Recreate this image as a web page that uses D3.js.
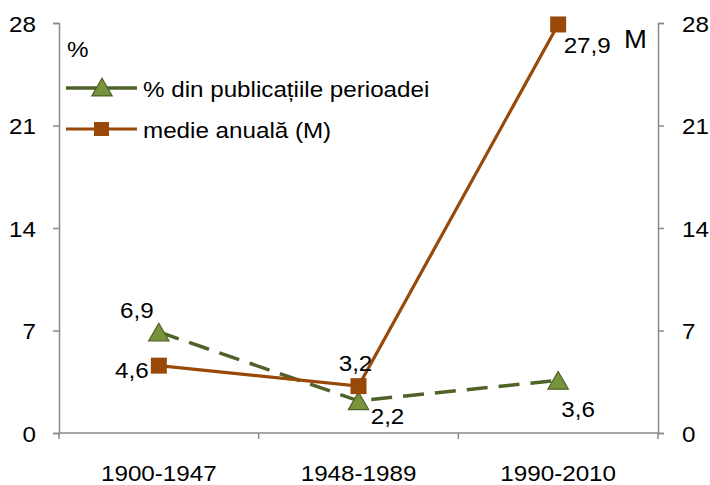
<!DOCTYPE html>
<html><head><meta charset="utf-8">
<script src="https://cdn.jsdelivr.net/npm/d3@7"></script>
<style>body{margin:0;background:#fff}svg text{font-family:"Liberation Sans",Arial,sans-serif;fill:#000}</style>
</head><body>
<svg id="c" width="710" height="485"></svg>
<script>
const categories = ["1900-1947", "1948-1989", "1990-2010"];
const pctValues = [6.9, 2.2, 3.6];
const annualValues = [4.6, 3.2, 27.9];
const yTicks = [0, 7, 14, 21, 28];
const seriesNames = ["% din publicațiile perioadei", "medie anuală (M)"];
const pctLabels = ["6,9", "2,2", "3,6"];
const annualLabels = ["4,6", "3,2", "27,9"];

const svg = d3.select("#c");
const L = 59, R = 658, T = 23, B = 433;
const x = d3.scaleBand().domain(categories).range([L, R]);
const y = d3.scaleLinear().domain([0, 28]).range([B, T]);
const y2 = d3.scaleLinear().domain([0, 28]).range([B, T]);
const axisColor = "#898989";
const fs = 22, K = 1.1;

function stretch(sel){
  sel.each(function(){
    const t = d3.select(this);
    const tx = +t.attr("x") || 0, ty = +t.attr("y") || 0;
    t.attr("x", 0).attr("y", 0).attr("transform", `translate(${tx},${ty}) scale(${K},1)`);
  });
}
function styleAxis(g){
  g.selectAll("path,line").attr("stroke", axisColor).attr("stroke-width",1.5);
  g.selectAll("text").style("font-size", fs+"px").attr("fill","#000");
  stretch(g.selectAll("text"));
}

const la = svg.append("g").attr("transform",`translate(${L},0)`)
  .call(d3.axisLeft(y).tickValues(yTicks).tickSize(6).tickSizeOuter(6).tickPadding(17).tickFormat(d3.format("d")));
la.selectAll("text").attr("dy","0.37em");
styleAxis(la);
const ra = svg.append("g").attr("transform",`translate(${R},0)`)
  .call(d3.axisRight(y2).tickValues(yTicks).tickSize(6).tickSizeOuter(6).tickPadding(18).tickFormat(d3.format("d")));
ra.selectAll("text").attr("dy","0.37em");
styleAxis(ra);
const ba = svg.append("g").attr("transform",`translate(0,${B})`)
  .call(d3.axisBottom(x).tickSize(0).tickPadding(32));
styleAxis(ba);
ba.select(".domain").attr("d", `M${L},0H${R}`);
const bounds = categories.map(c => x(c)).concat([R]);
ba.selectAll(".bt").data(bounds).join("line").attr("class","bt")
  .attr("x1",d=>d).attr("x2",d=>d).attr("y1",0).attr("y2",6)
  .attr("stroke",axisColor).attr("stroke-width",1.5);

const cx = c => x(c) + x.bandwidth()/2;
const green = "#4F6228", greenFill = "#77933C", brown = "#984807";

svg.append("path").datum(pctValues)
  .attr("d", d3.line().x((d,i)=>cx(categories[i])).y(d=>y(d)))
  .attr("fill","none").attr("stroke",green).attr("stroke-width",3.5).attr("stroke-dasharray","21,11");
svg.append("path").datum(annualValues)
  .attr("d", d3.line().x((d,i)=>cx(categories[i])).y(d=>y2(d)))
  .attr("fill","none").attr("stroke",brown).attr("stroke-width",3.2);

const tri = d3.symbol().type(d3.symbolTriangle).size(180);
svg.selectAll(".tri").data(pctValues).join("path").attr("class","tri")
  .attr("d", tri).attr("transform",(d,i)=>`translate(${cx(categories[i])},${y(d)+3})`)
  .attr("fill",greenFill).attr("stroke",green).attr("stroke-width",1.2);
svg.selectAll(".sq").data(annualValues).join("rect").attr("class","sq")
  .attr("x",(d,i)=>cx(categories[i])-8).attr("y",d=>y2(d)-8).attr("width",16).attr("height",16)
  .attr("fill",brown);

const pctOff = [[-22,-14],[29,23],[20,37]];
const pl = svg.selectAll(".pl").data(pctValues).join("text").attr("class","pl")
  .attr("x",(d,i)=>cx(categories[i])+pctOff[i][0]).attr("y",(d,i)=>y(d)+pctOff[i][1])
  .attr("text-anchor","middle").style("font-size",fs+"px").text((d,i)=>pctLabels[i]);
stretch(pl);
const annOff = [[-27,12],[-3,-15],[29,29]];
const al = svg.selectAll(".al").data(annualValues).join("text").attr("class","al")
  .attr("x",(d,i)=>cx(categories[i])+annOff[i][0]).attr("y",(d,i)=>y2(d)+annOff[i][1])
  .attr("text-anchor","middle").style("font-size",fs+"px").text((d,i)=>annualLabels[i]);
stretch(al);

stretch(svg.append("text").attr("x",67).attr("y",57).style("font-size","22px").text("%"));
stretch(svg.append("text").attr("x",624).attr("y",48).style("font-size","25px").text("M"));

const lg = svg.append("g");
const ly = [88, 129];
lg.append("line").attr("x1",66).attr("x2",137).attr("y1",ly[0]).attr("y2",ly[0]).attr("stroke",green).attr("stroke-width",3.5);
lg.append("path").attr("d",tri).attr("transform",`translate(102,${ly[0]+2})`).attr("fill",greenFill).attr("stroke",green).attr("stroke-width",1.2);
lg.append("line").attr("x1",66).attr("x2",137).attr("y1",ly[1]).attr("y2",ly[1]).attr("stroke",brown).attr("stroke-width",3.2);
lg.append("rect").attr("x",94).attr("y",ly[1]-7).attr("width",15).attr("height",14).attr("fill",brown);
seriesNames.forEach((s,i)=>{
  stretch(lg.append("text").attr("x",143).attr("y",ly[i]+9).style("font-size",fs+"px").text(s));
});
</script>
</body></html>
